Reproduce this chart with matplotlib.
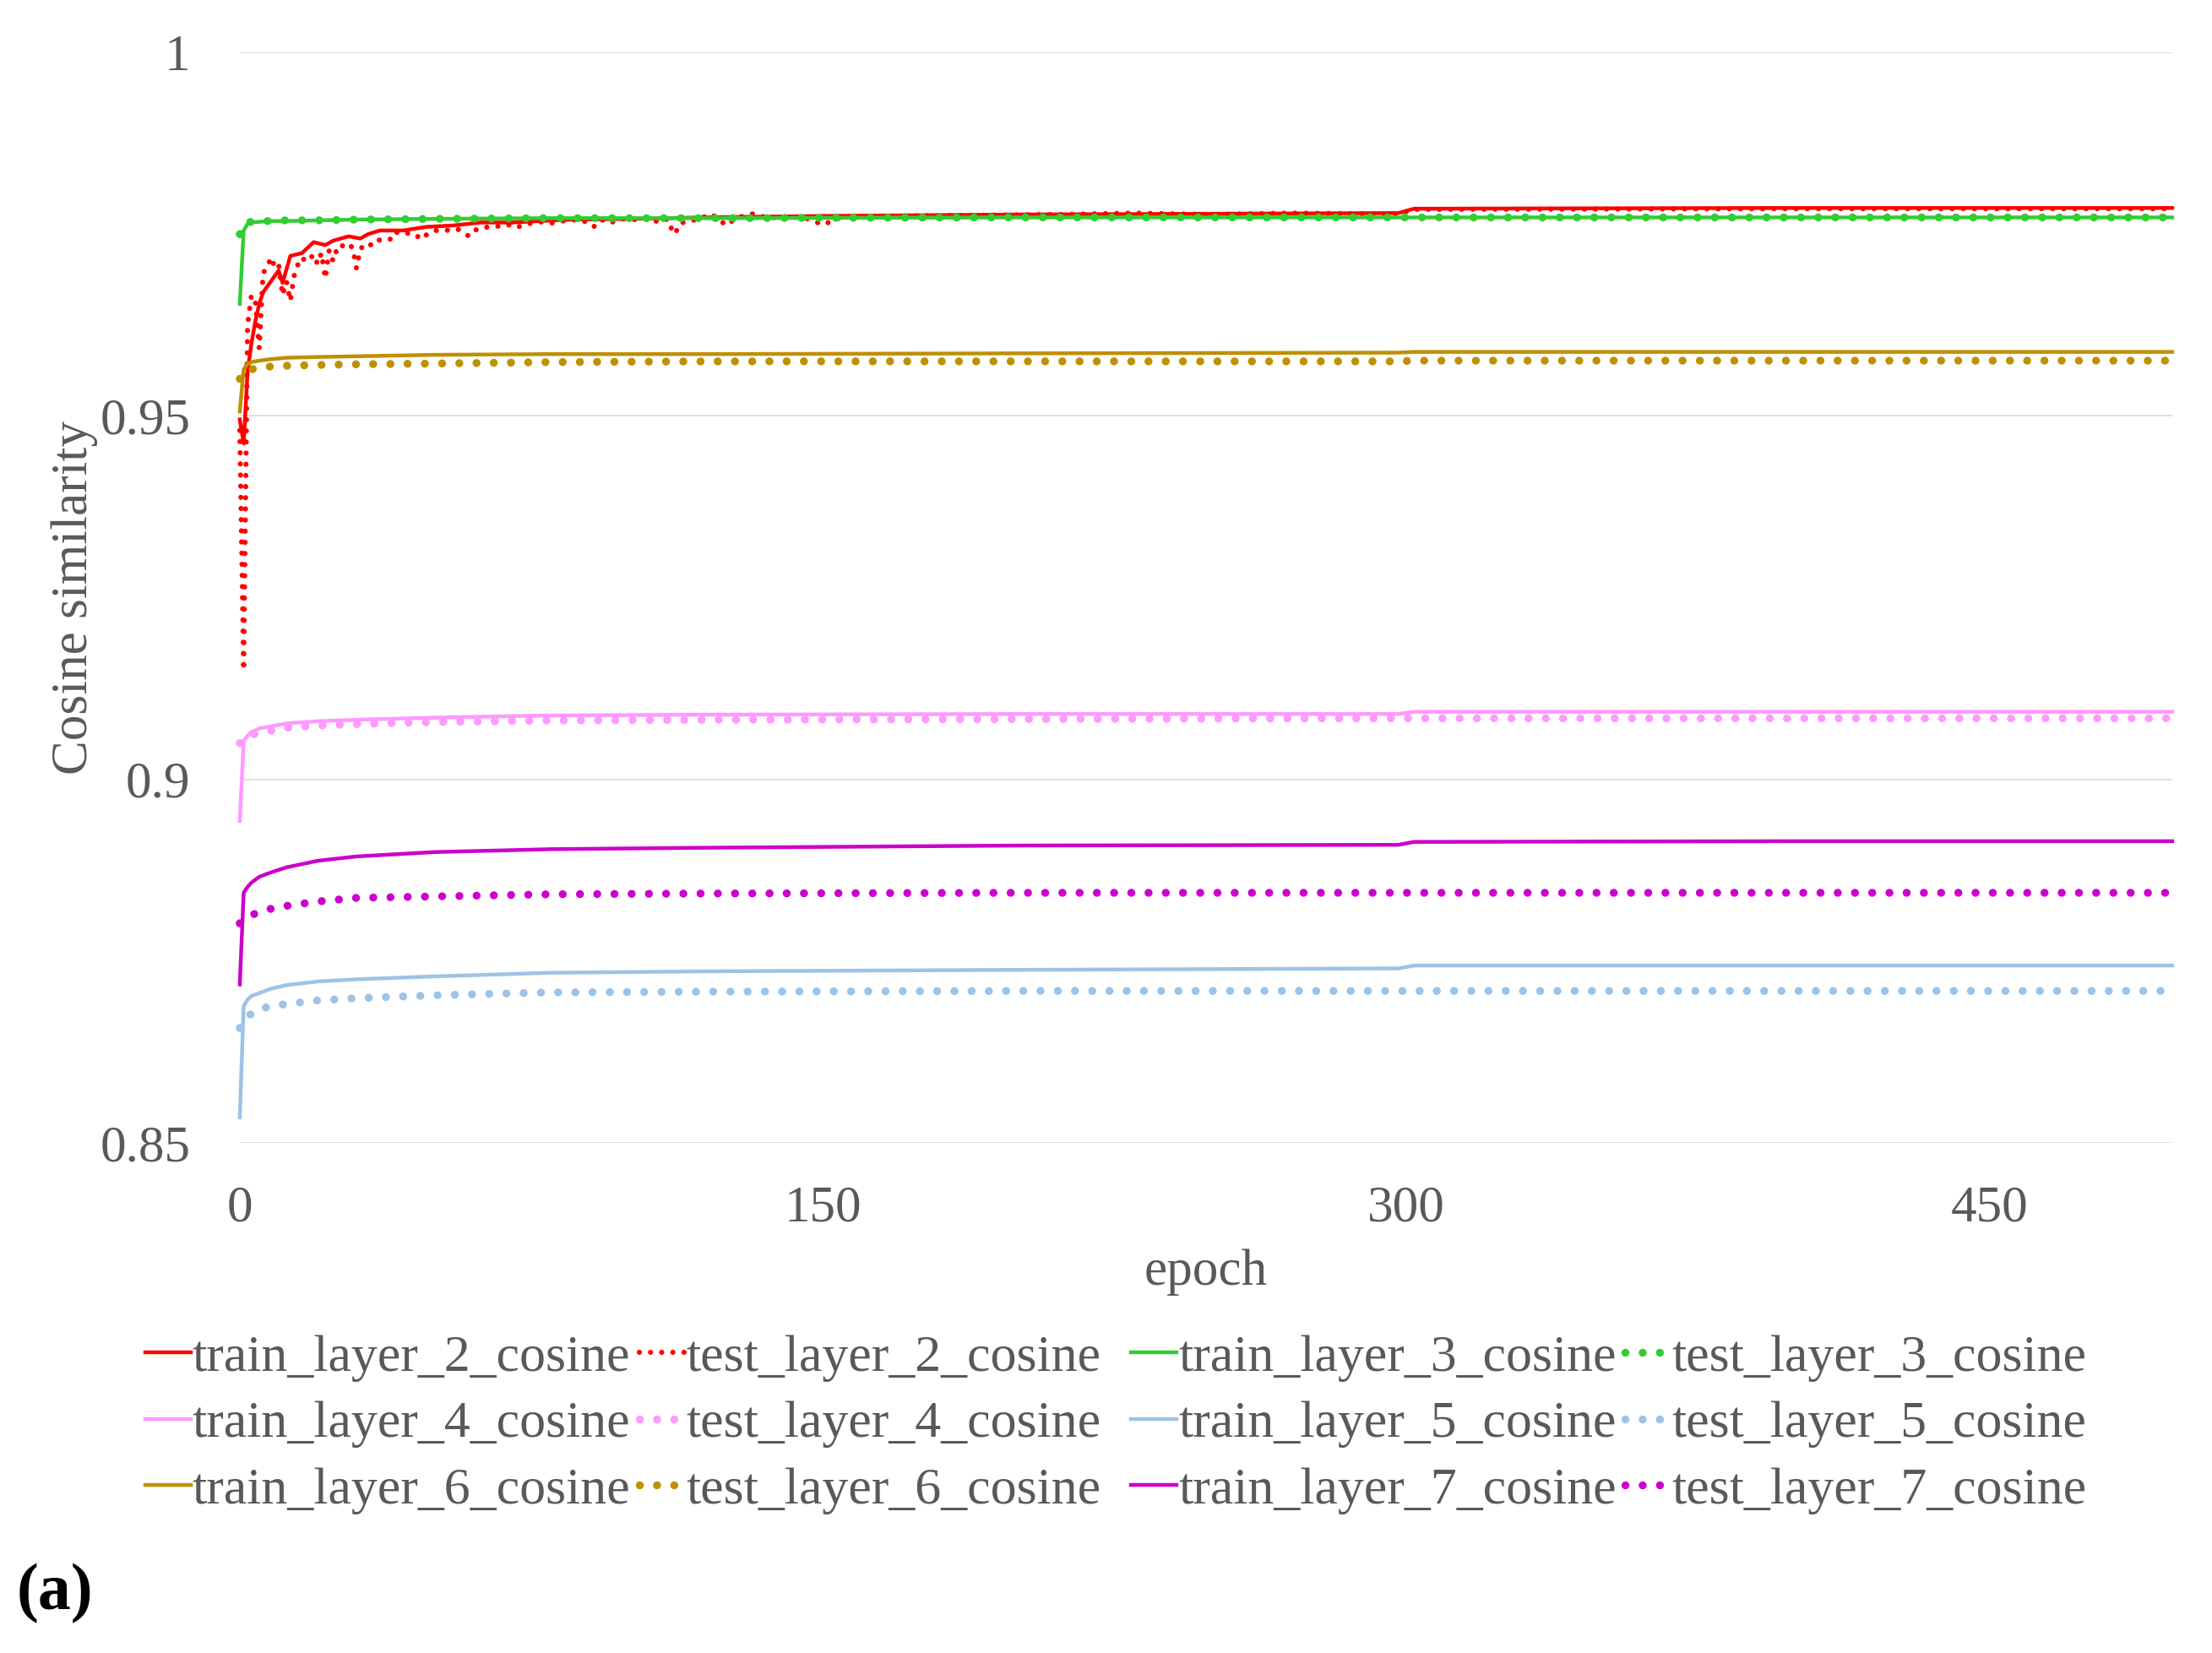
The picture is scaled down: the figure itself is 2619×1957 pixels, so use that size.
import matplotlib
matplotlib.use('Agg')
import matplotlib.pyplot as plt

plt.rcParams['font.family'] = ['Liberation Serif', 'DejaVu Serif']

# epochs read at the key points of the smooth curves
ep_main = [0, 1, 2, 3, 5, 8, 12, 20, 30, 50, 80, 120, 200, 298, 302, 400, 497]

train_3 = [0.9654, 0.9755, 0.9764, 0.9766, 0.9767, 0.9768, 0.9768, 0.9769, 0.9770,
           0.9771, 0.9772, 0.9772, 0.9773, 0.9773, 0.9773, 0.9773, 0.9773]
test_3 = [0.9750, 0.9762, 0.9766, 0.9767, 0.9768, 0.9768, 0.9769, 0.9769, 0.9770,
          0.9771, 0.9772, 0.9772, 0.9773, 0.9773, 0.9773, 0.9773, 0.9773]
train_4 = [0.8943, 0.9053, 0.9060, 0.9065, 0.9070, 0.9073, 0.9077, 0.9080, 0.9082,
           0.9085, 0.9088, 0.9089, 0.9090, 0.9090, 0.9093, 0.9093, 0.9093]
test_4 = [0.9050, 0.9055, 0.9058, 0.9061, 0.9064, 0.9067, 0.9071, 0.9074, 0.9076,
          0.9079, 0.9081, 0.9082, 0.9083, 0.9084, 0.9084, 0.9084, 0.9084]
train_5 = [0.8535, 0.8688, 0.8697, 0.8702, 0.8706, 0.8712, 0.8717, 0.8722, 0.8725,
           0.8729, 0.8734, 0.8736, 0.8738, 0.8740, 0.8744, 0.8744, 0.8744]
test_5 = [0.8658, 0.8665, 0.8673, 0.8678, 0.8684, 0.8688, 0.8691, 0.8696, 0.8699,
          0.8703, 0.8707, 0.8708, 0.8709, 0.8709, 0.8709, 0.8709, 0.8709]
train_6 = [0.9506, 0.9564, 0.9572, 0.9574, 0.9576, 0.9578, 0.9580, 0.9581, 0.9582,
           0.9584, 0.9585, 0.9585, 0.9586, 0.9587, 0.9588, 0.9588, 0.9588]
test_6 = [0.9551, 0.9560, 0.9562, 0.9564, 0.9566, 0.9568, 0.9569, 0.9570, 0.9571,
          0.9572, 0.9574, 0.9575, 0.9575, 0.9575, 0.9576, 0.9576, 0.9576]
train_7 = [0.8718, 0.8844, 0.8852, 0.8858, 0.8866, 0.8872, 0.8879, 0.8888, 0.8894,
           0.8900, 0.8904, 0.8906, 0.8909, 0.8910, 0.8914, 0.8915, 0.8915]
test_7 = [0.8802, 0.8806, 0.8810, 0.8813, 0.8818, 0.8822, 0.8826, 0.8832, 0.8837,
          0.8839, 0.8842, 0.8843, 0.8844, 0.8844, 0.8844, 0.8844, 0.8844]

# layer 2 is noisy, so it gets its own epochs
ep_train_2 = [0, 1, 2, 3, 4, 5, 6, 8, 10, 11, 13, 16, 19, 22, 24, 28, 31, 33, 36, 42,
              48, 55, 62, 70, 77, 85, 100, 120, 150, 200, 250, 298, 302, 400, 497]
train_2 = [0.9495, 0.9462, 0.9560, 0.9600, 0.9630, 0.9654, 0.9670, 0.9685, 0.9700,
           0.9683, 0.9720, 0.9724, 0.9739, 0.9735, 0.9741, 0.9747, 0.9744, 0.9750,
           0.9755, 0.9755, 0.9760, 0.9762, 0.9766, 0.9766, 0.9768, 0.9770, 0.9771,
           0.9773, 0.9775, 0.9777, 0.9778, 0.9779, 0.9785, 0.9786, 0.9786]

ep_test_2 = [0, 1, 2, 3, 4, 5, 6, 7, 8, 9, 10, 11, 12, 13, 14, 15, 16, 17, 18, 19, 20,
             21, 22, 23, 24, 25, 26, 27, 28, 29, 30, 31, 33, 34, 35, 37, 39, 40, 42, 44,
             47, 48, 50, 53, 56, 59, 61, 64, 67, 69, 71, 74, 77, 80, 84, 88, 91, 93, 95,
             98, 102, 105, 108, 110, 111, 112, 113, 115, 118, 121, 123, 125, 128, 132,
             136, 140, 145, 150, 155, 170, 190, 210, 230, 250, 270, 290, 298, 302, 400, 497]
test_2 = [0.9480, 0.9150, 0.9625, 0.9666, 0.9658, 0.9593, 0.9697, 0.9703, 0.9718,
          0.9705, 0.9709, 0.9666, 0.9685, 0.9658, 0.9693, 0.9709, 0.9718, 0.9712,
          0.9716, 0.9722, 0.9709, 0.9724, 0.9689, 0.9728, 0.9713, 0.9730, 0.9736,
          0.9731, 0.9735, 0.9732, 0.9703, 0.9730, 0.9738, 0.9734, 0.9740, 0.9744,
          0.9743, 0.9753, 0.9750, 0.9752, 0.9743, 0.9749, 0.9755, 0.9755, 0.9757,
          0.9747, 0.9757, 0.9760, 0.9761, 0.9763, 0.9759, 0.9764, 0.9767, 0.9765,
          0.9769, 0.9770, 0.9760, 0.9770, 0.9765, 0.9771, 0.9770, 0.9772, 0.9766,
          0.9771, 0.9758, 0.9750, 0.9764, 0.9768, 0.9770, 0.9778, 0.9772, 0.9762,
          0.9773, 0.9778, 0.9772, 0.9774, 0.9773, 0.9763, 0.9774, 0.9775, 0.9776,
          0.9777, 0.9779, 0.9777, 0.9779, 0.9778, 0.9778, 0.9784, 0.9785, 0.9785]

colors = {2: '#FF0000', 3: '#33CC33', 4: '#FF99FF', 5: '#9DC3E6', 6: '#BF9000', 7: '#CC00CC'}

series = [
    (2, ep_train_2, train_2, ep_test_2, test_2),
    (3, ep_main, train_3, ep_main, test_3),
    (4, ep_main, train_4, ep_main, test_4),
    (5, ep_main, train_5, ep_main, test_5),
    (6, ep_main, train_6, ep_main, test_6),
    (7, ep_main, train_7, ep_main, test_7),
]

fig = plt.figure(figsize=(13.095, 9.785), dpi=200)
ax = fig.add_axes([0.1084, 0.3086, 0.8736, 0.6597])

handles = {}
for k, ex, tr, et, te in series:
    c = colors[k]
    h1, = ax.plot(ex, tr, color=c, lw=1.6, solid_joinstyle='round',
                  label=f'train_layer_{k}_cosine', clip_on=False)
    w = 2.2 if k == 2 else 3.4
    h2, = ax.plot(et, te, color=c, lw=w, linestyle=(0, (0.01, 2.15)),
                  dash_capstyle='round', label=f'test_layer_{k}_cosine', clip_on=False)
    handles[k] = (h1, h2)

ax.set_xlim(0, 497)
ax.set_ylim(0.85, 1.0)
ax.set_xticks([0, 150, 300, 450])
ax.set_yticks([0.85, 0.9, 0.95, 1.0])
ax.set_yticklabels(['0.85', '0.9', '0.95', '1'])
ax.tick_params(length=0, labelsize=22, labelcolor='#595959')
ax.tick_params(axis='y', pad=21)
ax.tick_params(axis='x', pad=18)
for s in ax.spines.values():
    s.set_visible(False)
ax.grid(axis='y', color='#D9D9D9', lw=0.6)
ax.set_axisbelow(True)

ax.set_xlabel('epoch', fontsize=22, color='#595959', labelpad=7)
ax.set_ylabel('Cosine similarity', fontsize=22, color='#595959', labelpad=1)

# one legend per column so that each column starts where it does in the original
columns = [
    [handles[2][0], handles[4][0], handles[6][0]],
    [handles[2][1], handles[4][1], handles[6][1]],
    [handles[3][0], handles[5][0], handles[7][0]],
    [handles[3][1], handles[5][1], handles[7][1]],
]
col_x = [0.0657, 0.2890, 0.5114, 0.7346]
for hs, x0 in zip(columns, col_x):
    leg = fig.legend(handles=hs, labels=[h.get_label() for h in hs],
                     loc='center left', bbox_to_anchor=(x0, 0.1384), frameon=False,
                     fontsize=22.3, handlelength=0.87, handletextpad=0.03,
                     labelspacing=0.36, borderpad=0, borderaxespad=0)
    for t in leg.get_texts():
        t.set_color('#595959')

fig.text(0.0076, 0.0358, '(a)', fontsize=28, fontweight='bold', ha='left', va='center')

fig.savefig('out.png', dpi=200)
